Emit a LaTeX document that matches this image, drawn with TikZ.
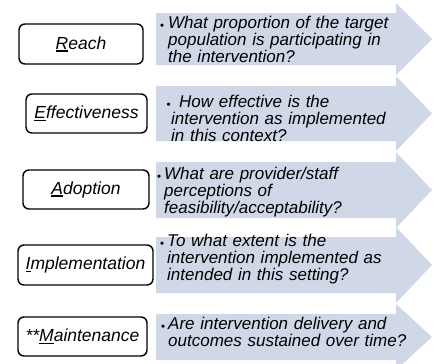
\documentclass[tikz,border=0pt]{standalone}
\usepackage{fontspec}
\setmainfont{Liberation Sans}
\definecolor{arrowblue}{HTML}{D0D8E8}
% thick underline for the initial letter
\newcommand\initial[1]{\leavevmode\vtop{\hbox{#1}\kern1.3pt\hrule height 1.3pt}}
\newcommand\qdot{\raisebox{-1.8pt}{\fontsize{11.5}{11.5}\selectfont\textbullet}}
\tikzset{
  stage/.style={draw, line width=1.4pt, rounded corners=6pt, fill=white,
    inner sep=0pt, font=\fontsize{17.5}{20}\selectfont\itshape},
  question/.style={anchor=base west, inner sep=0pt, text width=250pt,
    align=left, font=\fontsize{17}{17.3}\selectfont\itshape},
  mark dot/.style={anchor=base west, inner sep=0pt}
}
\begin{document}
\begin{tikzpicture}[x=1pt, y=-1pt]
  \useasboundingbox (0,0) rectangle (440,364);
  % arrow bands, top/bottom of each body
  \foreach \yt/\yb in {13/65, 86/141, 162/218, 237/293, 314/360}
    \fill[arrowblue] (156,\yt) -- (396,\yt) -- (396,\yt-10) -- (432,{(\yt+\yb)/2})
      -- (396,\yb+10) -- (396,\yb) -- (156,\yb) -- cycle;

  \node[stage, minimum width=124pt, minimum height=40pt] (reach) at (81,44) {\initial{R}each};
  \node[stage, minimum width=121pt, minimum height=39pt] (effect) at (86.5,113.5) {\initial{E}ffectiveness};
  \node[stage, minimum width=126pt, minimum height=39pt] (adopt) at (86,189.5) {\initial{A}doption};
  \node[stage, minimum width=135pt, minimum height=40pt] (impl) at (85.5,265) {\initial{I}mplementation};
  \node[stage, minimum width=129pt, minimum height=39pt] (maint) at (82.5,336.5) {**\initial{M}aintenance};

  \node[mark dot] (reachdot) at (160,28) {\qdot};
  \node[question] (reachq) at (168,28) {What proportion of the target\\population is participating in\\the intervention?};
  \node[mark dot] (effectdot) at (166.5,107) {\qdot};
  \node[question] (effectq) at (171,107) {\hspace*{8pt}How effective is the\\intervention as implemented\\in this context?};
  \node[mark dot] (adoptdot) at (157,179) {\qdot};
  \node[question] (adoptq) at (164,179) {What are provider/staff\\perceptions of\\feasibility/acceptability?};
  \node[mark dot] (impldot) at (160,246) {\qdot};
  \node[question] (implq) at (167,246) {To what extent is the\\intervention implemented as\\intended in this setting?};
  \node[mark dot] (maintdot) at (161,329) {\qdot};
  \node[question] (maintq) at (168,329) {Are intervention delivery and\\outcomes sustained over time?};
\end{tikzpicture}
\end{document}
